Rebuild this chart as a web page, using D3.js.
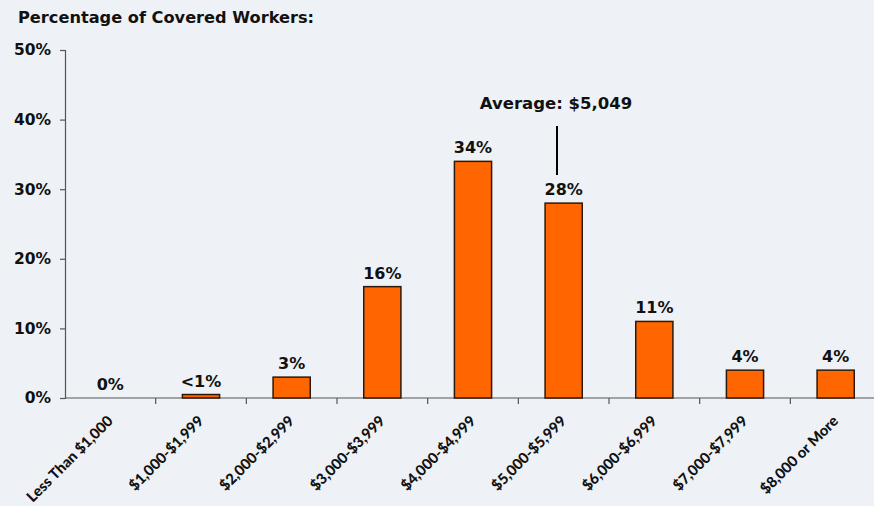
<!DOCTYPE html>
<html>
<head>
<meta charset="utf-8">
<script src="https://cdn.jsdelivr.net/npm/d3@7"></script>
<style>
  html, body { margin: 0; padding: 0; background: #eef2f6; }
  svg { display: block; }
</style>
</head>
<body>
<svg id="chart" width="874" height="506"></svg>
<script>
// Distribution of covered workers by annual premium range
const categories = ["Less Than $1,000", "$1,000-$1,999", "$2,000-$2,999", "$3,000-$3,999",
  "$4,000-$4,999", "$5,000-$5,999", "$6,000-$6,999", "$7,000-$7,999", "$8,000 or More"];
const shares = [0, 0.5, 3, 16, 34, 28, 11, 4, 4];
const shareLabels = ["0%", "<1%", "3%", "16%", "34%", "28%", "11%", "4%", "4%"];
const yTicks = [0, 10, 20, 30, 40, 50];
const averageCategory = "$5,000-$5,999";
const averageText = "Average: $5,049";
const yTitle = "Percentage of Covered Workers:";

const svg = d3.select("#chart");
const plotLeft = 65, plotRight = 881, plotTop = 50, plotBottom = 398;
const numFont = "'DejaVu Sans', Verdana, sans-serif";
const catFont = "Lato, 'Open Sans', sans-serif";

const x = d3.scaleBand().domain(categories).range([plotLeft, plotRight]).paddingInner(0.59).paddingOuter(0.295);
const y = d3.scaleLinear().domain([0, 50]).range([plotBottom, plotTop]);

// y axis
const yAxis = svg.append("g").attr("transform", `translate(${plotLeft},0)`)
  .call(d3.axisLeft(y).tickValues(yTicks).tickSize(5).tickPadding(9).tickFormat(d => d + "%"));
yAxis.select(".domain").attr("stroke", "#555").attr("stroke-width", 1.2);
yAxis.selectAll(".tick line").attr("stroke", "#555").attr("stroke-width", 1.2);
yAxis.selectAll(".tick text").attr("font-family", numFont).attr("font-weight", "bold")
  .attr("font-size", 15.5).attr("fill", "#111");

// x axis line with ticks on category boundaries
const xAxis = svg.append("g").attr("transform", `translate(0,${plotBottom})`);
xAxis.append("line").attr("x1", plotLeft).attr("x2", plotRight).attr("stroke", "#555").attr("stroke-width", 1.2);
const gap = x.step() - x.bandwidth();
xAxis.selectAll("line.bound").data(categories.slice(0, -1)).join("line")
  .attr("class", "bound")
  .attr("x1", d => x(d) + x.bandwidth() + gap / 2)
  .attr("x2", d => x(d) + x.bandwidth() + gap / 2)
  .attr("y1", 0).attr("y2", 6).attr("stroke", "#555").attr("stroke-width", 1.2);

// rotated category labels
svg.append("g").selectAll("text").data(categories).join("text")
  .attr("transform", d => `translate(${x(d) + x.bandwidth() / 2 + 3.5},${plotBottom + 24}) rotate(-45)`)
  .attr("text-anchor", "end")
  .attr("font-family", catFont).attr("font-weight", 900).attr("font-size", 14.8)
  .attr("fill", "#111")
  .text(d => d);

// bars
svg.append("g").selectAll("rect").data(categories).join("rect")
  .attr("x", d => x(d))
  .attr("y", (d, i) => y(shares[i]))
  .attr("width", x.bandwidth())
  .attr("height", (d, i) => y(0) - y(shares[i]))
  .attr("fill", "#ff6600")
  .attr("stroke", "#2b1a0c")
  .attr("stroke-width", 1.5);

// value labels
svg.append("g").selectAll("text").data(categories).join("text")
  .attr("x", d => x(d) + x.bandwidth() / 2)
  .attr("y", (d, i) => y(shares[i]) - 8)
  .attr("text-anchor", "middle")
  .attr("font-family", numFont).attr("font-weight", "bold").attr("font-size", 16)
  .attr("fill", "#111")
  .text((d, i) => shareLabels[i]);

// average marker
const ax = x(averageCategory) + x.bandwidth() * 0.32;
svg.append("line").attr("x1", ax).attr("x2", ax).attr("y1", 126).attr("y2", 175)
  .attr("stroke", "#000").attr("stroke-width", 2);
svg.append("text").attr("x", ax - 1).attr("y", 109).attr("text-anchor", "middle")
  .attr("font-family", numFont).attr("font-weight", "bold").attr("font-size", 16.5)
  .attr("fill", "#111").text(averageText);

// axis title
svg.append("text").attr("x", 18).attr("y", 23)
  .attr("font-family", numFont).attr("font-weight", "bold").attr("font-size", 16.2)
  .attr("fill", "#111").text(yTitle);
</script>
</body>
</html>
